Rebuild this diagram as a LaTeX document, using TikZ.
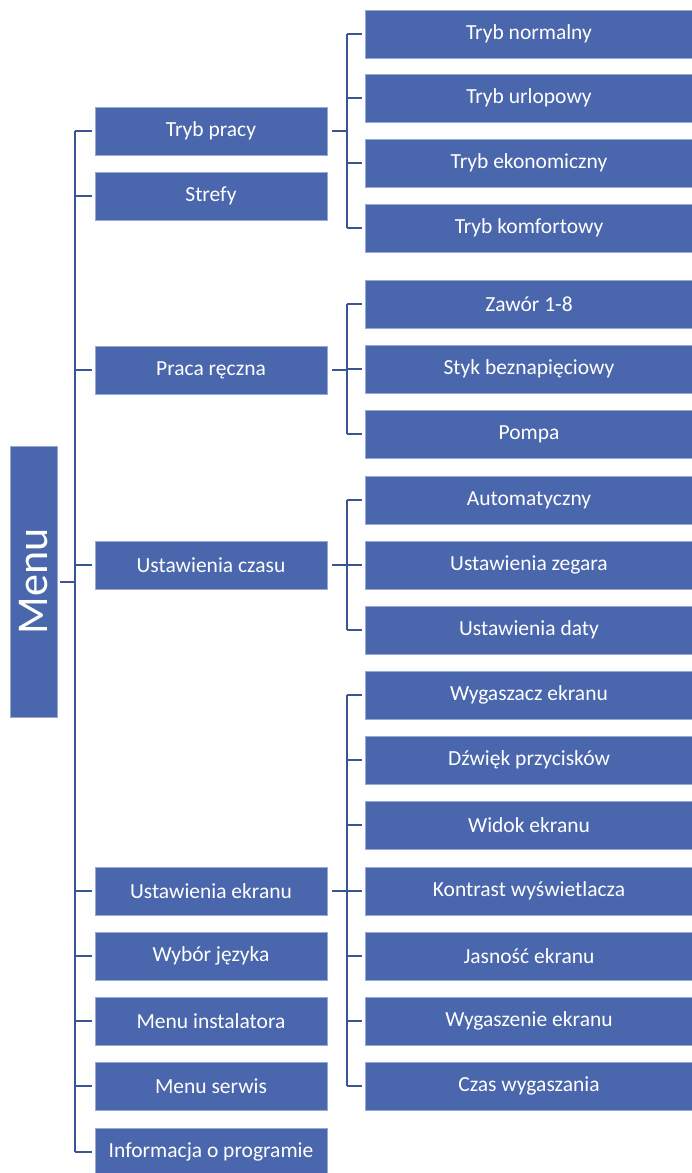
\documentclass[tikz,border=0pt]{standalone}
\usepackage{fontspec}
\setmainfont{Carlito}
\usepackage{tikz}

\definecolor{boxblue}{RGB}{74,102,172}
\definecolor{boxrim}{RGB}{150,168,214}
\definecolor{linkblue}{RGB}{60,84,145}

\tikzset{
  item/.style={fill=boxblue, draw=boxrim, line width=0.6pt, text=white,
    font=\fontsize{21.5}{23}\selectfont, inner sep=0pt,
    minimum height=48pt},
  top/.style={item, minimum width=232pt},
  sub/.style={item, minimum width=328pt},
  link/.style={linkblue, line width=2pt}
}

\begin{document}
\begin{tikzpicture}[x=1pt,y=-1pt]
  \useasboundingbox (0,0) rectangle (691,1173);

  \node[item, minimum width=47pt, minimum height=271pt] (menu) at (33.5,581.5)
    {\rotatebox{90}{\fontsize{44}{46}\selectfont Menu}};

  % first level
  \node[top] (tp) at (211,131) {Tryb pracy};
  \node[top] (st) at (211,196) {Strefy};
  \node[top] (pr) at (211,370) {Praca ręczna};
  \node[top] (uc) at (211,565) {Ustawienia czasu};
  \node[top] (ue) at (211,891) {Ustawienia ekranu};
  \node[top] (wj) at (211,956) {Wybór języka};
  \node[top] (mi) at (211,1021) {Menu instalatora};
  \node[top] (ms) at (211,1086) {Menu serwis};
  \node[top] (ip) at (211,1152) {Informacja o programie};

  % second level
  \node[sub] (tn) at (529,34) {Tryb normalny};
  \node[sub] (tu) at (529,98) {Tryb urlopowy};
  \node[sub] (te) at (529,163) {Tryb ekonomiczny};
  \node[sub] (tk) at (529,228) {Tryb komfortowy};
  \node[sub] (za) at (529,304) {Zawór 1-8};
  \node[sub] (sb) at (529,369) {Styk beznapięciowy};
  \node[sub] (po) at (529,434) {Pompa};
  \node[sub] (au) at (529,500) {Automatyczny};
  \node[sub] (uz) at (529,565) {Ustawienia zegara};
  \node[sub] (ud) at (529,630) {Ustawienia daty};
  \node[sub] (we) at (529,695) {Wygaszacz ekranu};
  \node[sub] (dp) at (529,760) {Dźwięk przycisków};
  \node[sub] (wi) at (529,825) {Widok ekranu};
  \node[sub] (kw) at (529,891) {Kontrast wyświetlacza};
  \node[sub] (je) at (529,956) {Jasność ekranu};
  \node[sub] (wg) at (529,1021) {Wygaszenie ekranu};
  \node[sub] (cw) at (529,1086) {Czas wygaszania};

  % spines
  \coordinate (s0) at (75,0);
  \coordinate (s1) at (347,0);

  \draw[link] ([xshift=3pt]menu.east) -- (menu.east -| s0);
  \draw[link] (s0 |- tp) -- (s0 |- ip);
  \foreach \n in {tp,st,pr,uc,ue,wj,mi,ms,ip}
    \draw[link] (s0 |- \n) -- ([xshift=-3pt]\n.west);

  \draw[link] ([xshift=5pt]tp.east) -- (tp -| s1);
  \draw[link] ([xshift=5pt]pr.east) -- (pr -| s1);
  \draw[link] ([xshift=5pt]uc.east) -- (uc -| s1);
  \draw[link] ([xshift=5pt]ue.east) -- (ue -| s1);
  \draw[link] (s1 |- tn) -- (s1 |- tk);
  \draw[link] (s1 |- za) -- (s1 |- po);
  \draw[link] (s1 |- au) -- (s1 |- ud);
  \draw[link] (s1 |- we) -- (s1 |- cw);
  \foreach \n in {tn,tu,te,tk,za,sb,po,au,uz,ud,we,dp,wi,kw,je,wg,cw}
    \draw[link] (s1 |- \n) -- ([xshift=-3pt]\n.west);
\end{tikzpicture}
\end{document}
